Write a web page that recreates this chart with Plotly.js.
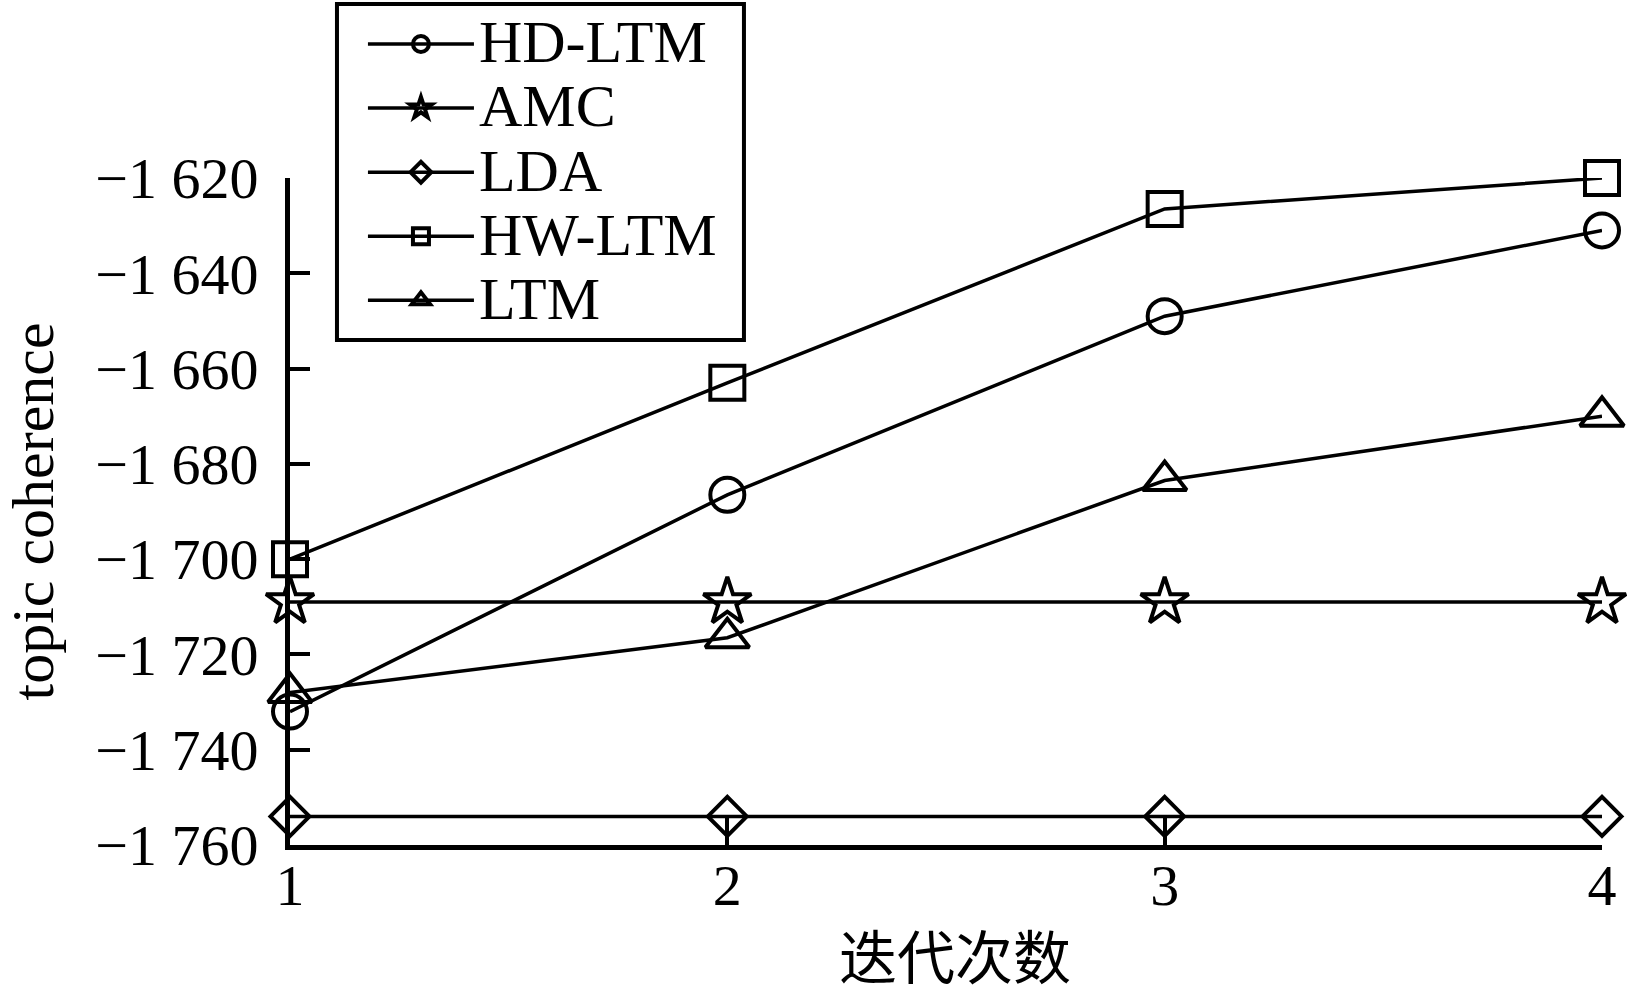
<!DOCTYPE html>
<html><head><meta charset="utf-8">
<script src="https://cdn.plot.ly/plotly-3.0.1.min.js"></script>
<style>html,body{margin:0;padding:0;background:#fff}</style>
</head><body><div id="chart" style="width:1631px;height:998px"></div>
<script>
// Data
const iterations = [1, 2, 3, 4];
const seriesNames = ['HD-LTM', 'AMC', 'LDA', 'HW-LTM', 'LTM'];
const hdLtm = [-1732, -1686.5, -1649, -1631];
const amc = [-1709, -1709, -1709, -1709];
const lda = [-1754, -1754, -1754, -1754];
const hwLtm = [-1700, -1663, -1626.5, -1620];
const ltm = [-1728, -1716.5, -1683.5, -1670];
const yTickVals = [-1760, -1740, -1720, -1700, -1680, -1660, -1640, -1620];
const yTickText = ['−1 760', '−1 740', '−1 720', '−1 700', '−1 680', '−1 660', '−1 640', '−1 620'];
const xTickVals = [1, 2, 3, 4];
const xTickText = ['1', '2', '3', '4'];
const xTitle = '迭代次数';
const yTitle = 'topic coherence';

const values = [hdLtm, amc, lda, hwLtm, ltm];
const symbols = ['circle-open', 'star-open', 'diamond-open', 'square-open', 'triangle-up-open'];
const sizes = [34, 36, 30, 34, 38];

const traces = values.map((v, i) => ({
  x: iterations, y: v,
  name: '<span style="font-size:60px">' + seriesNames[i] + '</span>',
  type: 'scatter', mode: 'lines+markers',
  cliponaxis: false,
  line: {color: '#000', width: 3.5},
  marker: {symbol: symbols[i], size: sizes[i], color: '#000', line: {color: '#000', width: 4}}
}));

const serif = 'Liberation Serif, Times New Roman, serif';
const layout = {
  width: 1631, height: 998,
  margin: {l: 290, r: 29, t: 178, b: 153, autoexpand: false},
  paper_bgcolor: '#fff', plot_bgcolor: '#fff',
  font: {family: serif, color: '#000', size: 58},
  showlegend: true,
  legend: {
    x: 0.0556, y: 1.2565, xanchor: 'left', yanchor: 'top',
    bgcolor: 'rgba(0,0,0,0)', borderwidth: 0,
    font: {family: serif, size: 47, color: '#000'},
    itemwidth: 106, tracegroupgap: 0
  },
  shapes: [{
    type: 'rect', xref: 'paper', yref: 'paper',
    x0: 0.0358, x1: 0.346, y0: 0.757, y1: 1.2609,
    line: {color: '#000', width: 4}, fillcolor: 'rgba(0,0,0,0)', layer: 'above'
  }],
  annotations: [{
    text: xTitle, xref: 'paper', yref: 'paper', x: 0.5072, y: -0.163,
    xanchor: 'center', yanchor: 'middle', showarrow: false, borderpad: 0,
    font: {family: 'Noto Sans CJK SC, sans-serif', size: 58, color: '#000'}
  }],
  xaxis: {
    range: [1, 4], tickvals: xTickVals, ticktext: xTickText,
    showgrid: false, zeroline: false, showline: true, linecolor: '#000', linewidth: 5,
    ticks: 'inside', ticklen: 27, tickwidth: 4, tickcolor: '#000', ticklabelstandoff: -15,
    tickfont: {family: serif, size: 58, color: '#000'}
  },
  yaxis: {
    range: [-1760, -1620], tickvals: yTickVals, ticktext: yTickText,
    showgrid: false, zeroline: false, showline: true, linecolor: '#000', linewidth: 5,
    ticks: 'inside', ticklen: 20, tickwidth: 4, tickcolor: '#000', ticklabelstandoff: 15,
    tickfont: {family: serif, size: 58, color: '#000'},
    title: {text: yTitle, font: {family: serif, size: 60, color: '#000'}, standoff: 28}
  }
};
Plotly.newPlot('chart', traces, layout, {displayModeBar: false, staticPlot: true});
</script></body></html>
